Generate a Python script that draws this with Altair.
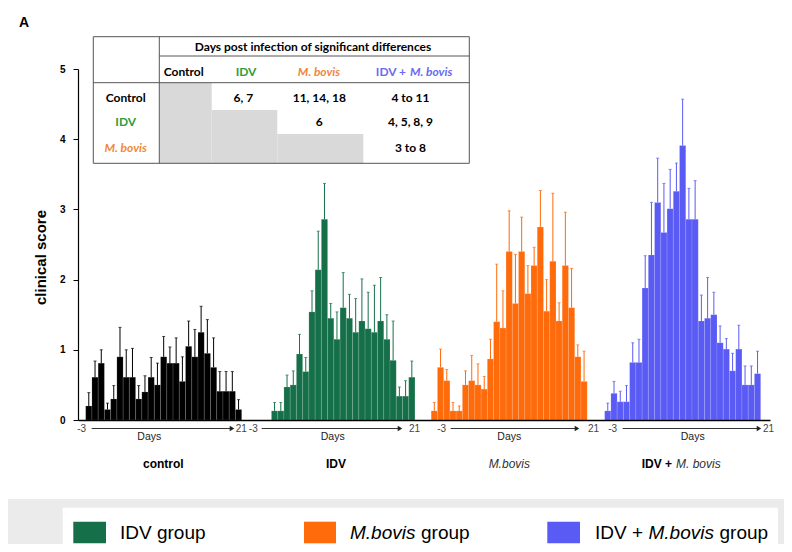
import altair as alt
import pandas as pd

# ---------------- data ----------------
groups = ["control", "IDV", "M.bovis", "IDV + M.bovis"]

control_mean = [0.20, 0.61, 0.81, 0.15, 0.30, 0.90, 0.61, 0.61, 0.30, 0.40, 0.61, 0.50, 0.90,
                0.81, 0.81, 0.55, 1.05, 0.90, 1.25, 0.95, 0.75, 0.41, 0.41, 0.41, 0.15]
control_err = [0.39, 0.84, 1.00, 0.24, 0.49, 1.32, 1.00, 1.02, 0.49, 0.63, 0.89, 0.81, 1.19,
               1.04, 1.17, 0.90, 1.41, 1.29, 1.62, 1.43, 1.17, 0.69, 0.69, 0.69, 0.29]

idv_mean = [0.13, 0.13, 0.47, 0.50, 0.94, 0.69, 1.54, 2.14, 2.86, 1.45, 1.15, 1.60, 1.45,
            1.25, 1.41, 1.30, 1.25, 1.41, 1.15, 0.85, 0.34, 0.34, 0.61]
idv_err = [0.25, 0.25, 0.64, 0.70, 1.22, 0.89, 1.84, 2.69, 3.37, 1.66, 1.54, 2.10, 1.79,
           1.73, 2.01, 1.82, 1.92, 2.03, 1.50, 1.41, 0.47, 0.56, 0.84]

mbovis_mean = [0.13, 0.75, 0.56, 0.13, 0.13, 0.50, 0.56, 0.50, 0.44, 0.87, 1.40, 1.31, 2.40,
               1.66, 2.40, 1.80, 2.20, 2.75, 1.55, 2.26, 1.41, 2.20, 1.60, 0.90, 0.55]
mbovis_err = [0.25, 1.01, 0.72, 0.25, 0.20, 0.70, 0.92, 0.80, 0.62, 1.15, 2.22, 1.84, 2.98,
              2.36, 2.89, 2.20, 2.46, 3.27, 2.00, 3.23, 1.67, 2.96, 2.16, 1.07, 0.98]

combo_mean = [0.13, 0.38, 0.26, 0.26, 0.82, 0.82, 1.88, 2.35, 3.10, 2.67, 3.01, 3.26, 3.91,
              2.86, 2.86, 1.41, 1.45, 1.50, 1.10, 1.01, 0.70, 1.01, 0.50, 0.50, 0.66]
combo_err = [0.24, 0.55, 0.41, 0.49, 1.10, 1.15, 2.34, 3.10, 3.73, 3.37, 3.57, 3.66, 4.57,
             3.30, 3.41, 1.78, 2.03, 1.82, 1.34, 1.16, 0.95, 1.35, 0.77, 0.77, 0.98]

y_ticks = [0, 1, 2, 3, 4, 5]
axis_start_label = "-3"
axis_end_label = "21"

table_title = "Days post infection of  significant differences"
table_cols = ["Control", "IDV", "M. bovis", "IDV + M. bovis"]
table_rows = ["Control", "IDV", "M. bovis"]
table_cells = [["", "6, 7", "11, 14, 18", "4 to 11"],
               ["", "", "6", "4, 5, 8, 9"],
               ["", "", "", "3 to 8"]]

legend_labels = ["IDV group", "M.bovis group", "IDV + M.bovis group"]

# ---------------- styling / layout ----------------
bar_colors = ["#000000", "#15704a", "#ff6a0a", "#5a5af5"]
err_colors = ["#8a8a8a", "#a9bfb3", "#f6a878", "#a8a8f4"]
txt_colors = ["#000000", "#2e9b3c", "#f0883a", "#6a6af2"]

W, H = 692, 351
X_MAX = W / 6.24
group_start = [1.23, 31.0, 56.6, 84.4]
ARIAL = "Liberation Sans"
CAL = "Lato"

means = [control_mean, idv_mean, mbovis_mean, combo_mean]
errs = [control_err, idv_err, mbovis_err, combo_err]
rows = []
for g, (m, e) in enumerate(zip(means, errs)):
    for i, (mv, ev) in enumerate(zip(m, e)):
        rows.append({"group": groups[g], "day": -3 + i,
                     "x0": group_start[g] + i, "x1": group_start[g] + i + 1,
                     "xc": group_start[g] + i + 0.5, "mean": mv, "err": ev, "base": 0.0})
df = pd.DataFrame(rows)

one = pd.DataFrame({"k": [0]})

xs = alt.Scale(domain=[0, X_MAX], nice=False, zero=False)
ys = alt.Scale(domain=[0, 5], nice=False, zero=True)


def rect(x, x2, y, y2, fill, stroke=None, sw=0):
    props = dict(strokeWidth=sw)
    props["fill"] = fill if fill else "transparent"
    if stroke:
        props["stroke"] = stroke
    return alt.Chart(one).mark_rect(**props).encode(
        x=alt.value(x), x2=alt.value(x2), y=alt.value(y), y2=alt.value(y2))


def rule(x, x2, y, y2, color="#444444", sw=1):
    return alt.Chart(one).mark_rule(color=color, strokeWidth=sw).encode(
        x=alt.value(x), x2=alt.value(x2), y=alt.value(y), y2=alt.value(y2))


def text(s, x, y, size=10, font=ARIAL, weight="normal", style="normal",
         color="#000000", align="center", baseline="middle"):
    return alt.Chart(pd.DataFrame({"t": [s]})).mark_text(
        font=font, fontSize=size, fontWeight=weight, fontStyle=style, color=color,
        align=align, baseline=baseline).encode(
        x=alt.value(x), y=alt.value(y), text="t:N")


layers = []
# background panels
layers.append(rect(-70, 706, -61, 430, "#ffffff"))
layers.append(rect(-15.3, 700, 438.7, 475, "#ffffff"))

color_enc = alt.Color("group:N", scale=alt.Scale(domain=groups, range=bar_colors), legend=None)
err_enc = alt.Color("group:N", scale=alt.Scale(domain=groups, range=err_colors), legend=None)

bars = alt.Chart(df).mark_rect(stroke="#ffffff", strokeOpacity=0.22, strokeWidth=0.6).encode(
    x=alt.X("x0:Q", scale=xs,
            axis=alt.Axis(labels=False, ticks=False, title=None, grid=False,
                          domainColor="#000000", domainWidth=1.3, zindex=1)),
    x2="x1:Q",
    y=alt.Y("mean:Q", scale=ys,
            axis=alt.Axis(values=y_ticks, format="d", title="clinical score", grid=False,
                          domainColor="#000000", domainWidth=1.2, tickColor="#000000",
                          tickSize=5, labelPadding=8, labelFont=ARIAL, labelFontSize=10,
                          labelFontWeight="bold", labelColor="#000000",
                          titleFont=ARIAL, titleFontSize=15, titleFontWeight="bold",
                          titleColor="#000000", titleX=-38, titleY=188,
                          titleBaseline="middle", titleAlign="center", zindex=1)),
    y2="base:Q",
    color=color_enc)
layers.append(bars)

errbars = alt.Chart(df).mark_rule(strokeWidth=1).encode(
    x=alt.X("xc:Q", scale=xs), y=alt.Y("mean:Q", scale=ys), y2="err:Q", color=err_enc)
caps = alt.Chart(df).mark_tick(orient="horizontal", size=3, thickness=1).encode(
    x=alt.X("xc:Q", scale=xs), y=alt.Y("err:Q", scale=ys), color=err_enc)
layers += [errbars, caps]

# ---------------- table inset ----------------
gray = "#d9d9d9"
layers.append(rect(82, 133.7, 13.7, 94.3, gray))
layers.append(rect(133.7, 199.3, 41, 94.3, gray))
layers.append(rect(199.3, 285.3, 65, 94.3, gray))
layers.append(rect(15.3, 391.3, -32.3, 94.3, None, stroke="#555555", sw=1))
layers.append(rule(81.3, 81.3, -32.3, 94.3, color="#555555"))
layers.append(rule(81.3, 391.3, -13, -13, color="#555555"))
layers.append(rule(15.3, 391.3, 13.7, 13.7, color="#555555"))

layers.append(text(table_title, 235, -21.7, size=12, font=CAL, weight="bold"))
col_x = [105.7, 168, 241, 339]
row_y = [29.3, 52.7, 79.3]
hdr_y = 2.7
for j, c in enumerate(table_cols):
    if j == 3:
        layers.append(text("IDV +", 328, hdr_y, size=12, font=CAL, weight="bold",
                           color=txt_colors[3], align="right"))
        layers.append(text(c.replace("IDV + ", ""), 332, hdr_y, size=12, font=CAL,
                           weight="bold", style="italic", color=txt_colors[3], align="left"))
    else:
        layers.append(text(c, col_x[j], hdr_y, size=12, font=CAL, weight="bold",
                           style="italic" if j == 2 else "normal", color=txt_colors[j]))
for r, name in enumerate(table_rows):
    layers.append(text(name, 47.7, row_y[r], size=12, font=CAL, weight="bold",
                       style="italic" if r == 2 else "normal", color=txt_colors[r]))
    for j, v in enumerate(table_cells[r]):
        if v:
            cx = [105.7, 165.3, 241.3, 332.5][j]
            layers.append(text(v, cx, row_y[r], size=12, font=CAL, weight="bold"))

# ---------------- panel letter ----------------
layers.append(text("A", -54, -46, size=14, weight="bold"))

# ---------------- day arrows under each group ----------------
lbl_start = [3.7, 175.3, 363.7, 534.7]
arr_start = [13.7, 183.7, 372.7, 544.7]
arr_tip = [157, 325, 502, 684]
lbl_end = [157.8, 331, 510, 685]
days_x = [71.3, 254.7, 431.3, 614.7]
AY = 359.5
for g in range(4):
    layers.append(text(axis_start_label, lbl_start[g], AY, size=10, color="#444444"))
    layers.append(rule(arr_start[g], arr_tip[g] - 4, AY, AY, color="#333333", sw=1))
    layers.append(alt.Chart(one).mark_point(shape="triangle-right", filled=True, size=28,
                                            color="#222222", opacity=1).encode(
        x=alt.value(arr_tip[g] - 3), y=alt.value(AY)))
    layers.append(text(axis_end_label, lbl_end[g], AY, size=10, color="#444444", align="left"))
    layers.append(text("Days", days_x[g], 368, size=10.5, color="#222222"))

GY = 395
layers.append(text("control", 85.3, GY, size=12, weight="bold"))
layers.append(text("IDV", 258, GY, size=12, weight="bold"))
layers.append(text("M.bovis", 431.3, GY, size=12, style="italic", color="#333333"))
layers.append(text("IDV +", 594, GY, size=12, weight="bold", align="right"))
layers.append(text("M. bovis", 598, GY, size=12, style="italic", color="#333333", align="left"))

# ---------------- bottom legend ----------------
sq = [(-4.7, 28), (226, 258), (469.3, 502)]
for k in range(3):
    layers.append(rect(sq[k][0], sq[k][1], 452.7, 474.3, bar_colors[k + 1]))
LY = 470
LS = 19
layers.append(text("IDV group", 42, LY, size=LS, align="left", baseline="alphabetic"))
layers.append(text("M.bovis", 272, LY, size=LS, style="italic", align="left",
                   baseline="alphabetic"))
layers.append(text("group", 343, LY, size=LS, align="left", baseline="alphabetic"))
layers.append(text("IDV +", 517, LY, size=LS, align="left", baseline="alphabetic"))
layers.append(text("M.bovis", 570.5, LY, size=LS, style="italic", align="left",
                   baseline="alphabetic"))
layers.append(text("group", 641.5, LY, size=LS, align="left", baseline="alphabetic"))

chart = alt.layer(*layers).properties(
    width=W, height=H, background="#ebebeb",
    padding={"left": 70, "top": 61, "right": 14, "bottom": 124},
    autosize=alt.AutoSizeParams(type="none"),
).configure_view(stroke=None)

chart.save("out.html", embed_options={"renderer": "svg", "actions": False})
